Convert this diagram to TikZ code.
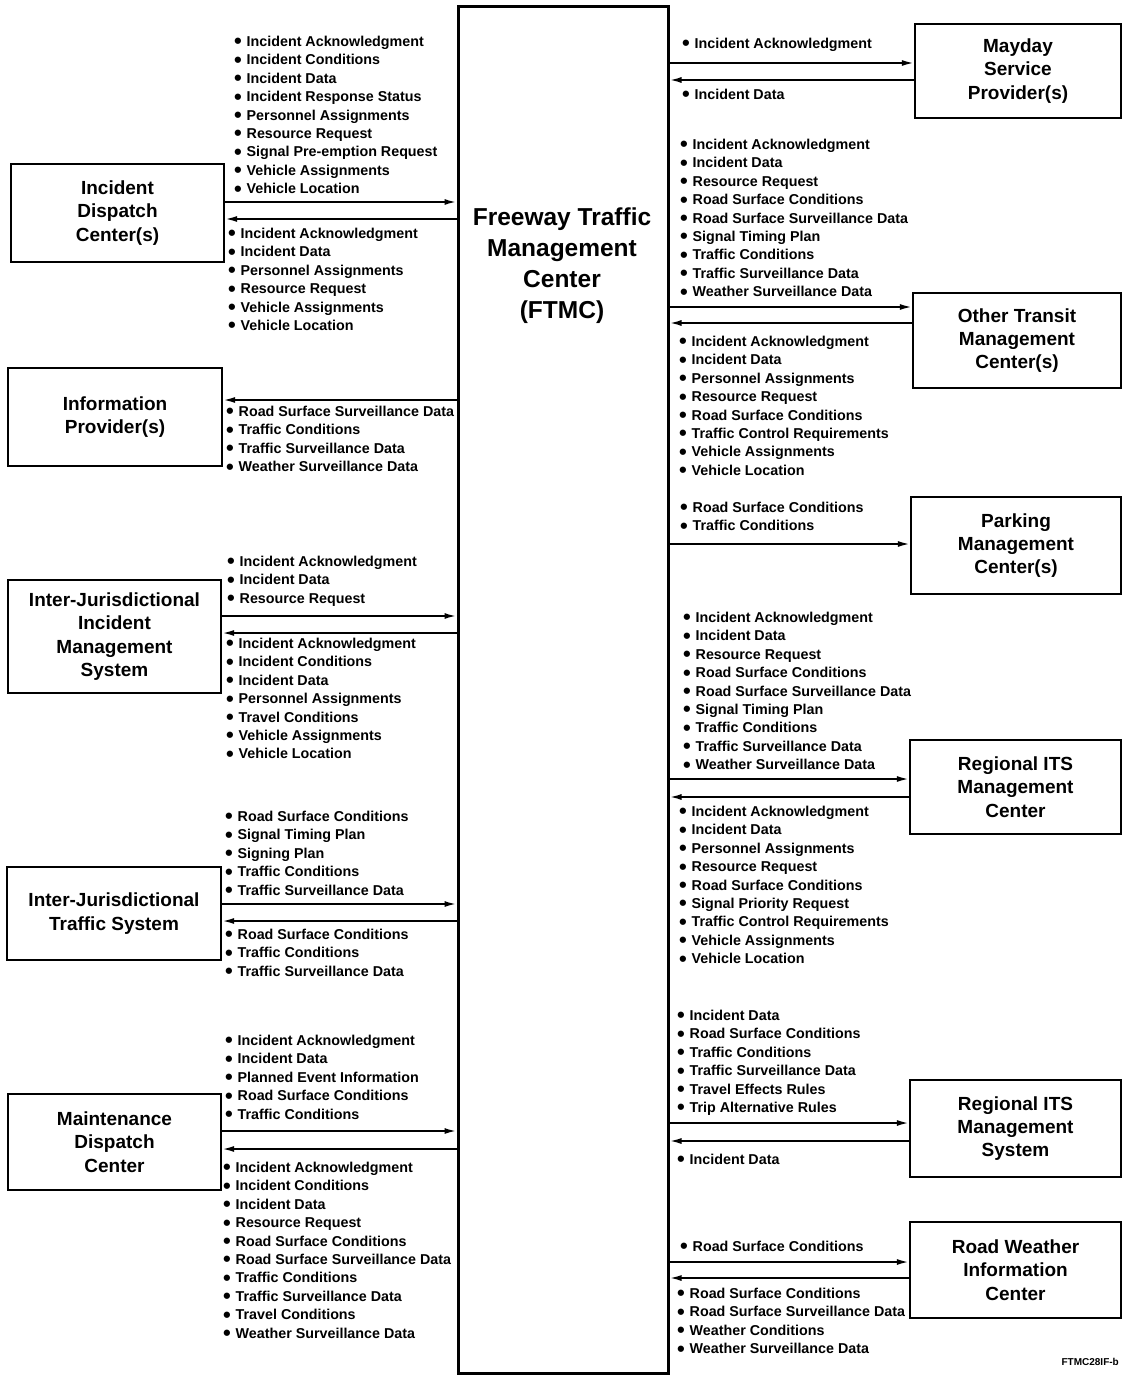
\documentclass[tikz,border=0pt]{standalone}
\usepackage{fontspec}
\setmainfont{Liberation Sans}
\usetikzlibrary{arrows.meta}
\newcommand\bl{\makebox[12.5pt][l]{\smash{\raisebox{-2.4pt}{\fontsize{22}{18}\selectfont •}}}}
\begin{document}
\begin{tikzpicture}[x=1pt,y=-1pt,
 box/.style={draw,line width=2.2pt,align=center,font=\bfseries\fontsize{19}{23.2}\selectfont,inner sep=0pt},
 lst/.style={anchor=north west,align=left,inner sep=0pt,font=\bfseries\fontsize{14.3}{18.4}\selectfont},
 arr/.style={line width=1.9pt,-{Latex[length=12pt,width=6pt]}}]
\useasboundingbox (0,0) rectangle (1123,1375);
\fill[white] (0,0) rectangle (1123,1375);

% central box
\node[draw,line width=3pt,minimum width=210pt,minimum height=1366pt,inner sep=0pt] (ftmc) at (563,690) {};
\node[align=center,font=\bfseries\fontsize{24.5}{31}\selectfont] (ftmct) at (562,266) {Freeway Traffic\\Management\\Center\\(FTMC)};

% left boxes
\node[box,minimum width=213pt,minimum height=98pt] (idc) at (117.5,213) {Incident\\Dispatch\\Center(s)};
\node[box,minimum width=214pt,minimum height=98pt] (ip) at (115,417) {Information\\Provider(s)};
\node[box,minimum width=213pt,minimum height=113pt] (ijims) at (114.5,636.5) {Inter-Jurisdictional\\Incident\\Management\\System};
\node[box,minimum width=214pt,minimum height=93pt] (ijts) at (114,913.5) {Inter-Jurisdictional\\Traffic System};
\node[box,minimum width=213pt,minimum height=96pt] (mdc) at (114.5,1142) {Maintenance\\Dispatch\\Center};

% right boxes
\node[box,minimum width=206pt,minimum height=94pt] (msp) at (1018,71) {Mayday\\Service\\Provider(s)};
\node[box,minimum width=208pt,minimum height=95pt] (otmc) at (1017,340.5) {Other Transit\\Management\\Center(s)};
\node[box,minimum width=210pt,minimum height=97pt] (pmc) at (1016,545.5) {Parking\\Management\\Center(s)};
\node[box,minimum width=211pt,minimum height=94pt] (ritsc) at (1015.5,787) {Regional ITS\\Management\\Center};
\node[box,minimum width=211pt,minimum height=97pt] (ritss) at (1015.5,1128.5) {Regional ITS\\Management\\System};
\node[box,minimum width=211pt,minimum height=96pt] (rwic) at (1015.5,1270) {Road Weather\\Information\\Center};

% left lists
\node[lst] (l1u) at (234,36) {\bl Incident Acknowledgment\\\bl Incident Conditions\\\bl Incident Data\\\bl Incident Response Status\\\bl Personnel Assignments\\\bl Resource Request\\\bl Signal Pre-emption Request\\\bl Vehicle Assignments\\\bl Vehicle Location};
\node[lst] (l1d) at (228,228) {\bl Incident Acknowledgment\\\bl Incident Data\\\bl Personnel Assignments\\\bl Resource Request\\\bl Vehicle Assignments\\\bl Vehicle Location};
\node[lst] (l2) at (226,406) {\bl Road Surface Surveillance Data\\\bl Traffic Conditions\\\bl Traffic Surveillance Data\\\bl Weather Surveillance Data};
\node[lst] (l3u) at (227,556) {\bl Incident Acknowledgment\\\bl Incident Data\\\bl Resource Request};
\node[lst] (l3d) at (226,638) {\bl Incident Acknowledgment\\\bl Incident Conditions\\\bl Incident Data\\\bl Personnel Assignments\\\bl Travel Conditions\\\bl Vehicle Assignments\\\bl Vehicle Location};
\node[lst] (l4u) at (225,811) {\bl Road Surface Conditions\\\bl Signal Timing Plan\\\bl Signing Plan\\\bl Traffic Conditions\\\bl Traffic Surveillance Data};
\node[lst] (l4d) at (225,929) {\bl Road Surface Conditions\\\bl Traffic Conditions\\\bl Traffic Surveillance Data};
\node[lst] (l5u) at (225,1035) {\bl Incident Acknowledgment\\\bl Incident Data\\\bl Planned Event Information\\\bl Road Surface Conditions\\\bl Traffic Conditions};
\node[lst] (l5d) at (223,1162) {\bl Incident Acknowledgment\\\bl Incident Conditions\\\bl Incident Data\\\bl Resource Request\\\bl Road Surface Conditions\\\bl Road Surface Surveillance Data\\\bl Traffic Conditions\\\bl Traffic Surveillance Data\\\bl Travel Conditions\\\bl Weather Surveillance Data};

% right lists
\node[lst] (r1u) at (682,38) {\bl Incident Acknowledgment};
\node[lst] (r1d) at (682,89) {\bl Incident Data};
\node[lst] (r2u) at (680,139) {\bl Incident Acknowledgment\\\bl Incident Data\\\bl Resource Request\\\bl Road Surface Conditions\\\bl Road Surface Surveillance Data\\\bl Signal Timing Plan\\\bl Traffic Conditions\\\bl Traffic Surveillance Data\\\bl Weather Surveillance Data};
\node[lst] (r2d) at (679,336) {\bl Incident Acknowledgment\\\bl Incident Data\\\bl Personnel Assignments\\\bl Resource Request\\\bl Road Surface Conditions\\\bl Traffic Control Requirements\\\bl Vehicle Assignments\\\bl Vehicle Location};
\node[lst] (r3u) at (680,502) {\bl Road Surface Conditions\\\bl Traffic Conditions};
\node[lst] (r4u) at (683,612) {\bl Incident Acknowledgment\\\bl Incident Data\\\bl Resource Request\\\bl Road Surface Conditions\\\bl Road Surface Surveillance Data\\\bl Signal Timing Plan\\\bl Traffic Conditions\\\bl Traffic Surveillance Data\\\bl Weather Surveillance Data};
\node[lst] (r4d) at (679,806) {\bl Incident Acknowledgment\\\bl Incident Data\\\bl Personnel Assignments\\\bl Resource Request\\\bl Road Surface Conditions\\\bl Signal Priority Request\\\bl Traffic Control Requirements\\\bl Vehicle Assignments\\\bl Vehicle Location};
\node[lst] (r5u) at (677,1010) {\bl Incident Data\\\bl Road Surface Conditions\\\bl Traffic Conditions\\\bl Traffic Surveillance Data\\\bl Travel Effects Rules\\\bl Trip Alternative Rules};
\node[lst] (r5d) at (677,1154) {\bl Incident Data};
\node[lst] (r6u) at (680,1241) {\bl Road Surface Conditions};
\node[lst] (r6d) at (677,1288) {\bl Road Surface Conditions\\\bl Road Surface Surveillance Data\\\bl Weather Conditions\\\bl Weather Surveillance Data};

\node[anchor=east,inner sep=0pt,font=\bfseries\fontsize{10}{12}\selectfont] (code) at (1119,1362) {FTMC28IF-b};

% left arrows
\draw[arr] (idc.east |- 0,202) -- (ftmc.west |- 0,202);
\draw[arr] (ftmc.west |- 0,219) -- (idc.east |- 0,219);
\draw[arr] (ftmc.west |- 0,400) -- (ip.east |- 0,400);
\draw[arr] (ijims.east |- 0,616) -- (ftmc.west |- 0,616);
\draw[arr] (ftmc.west |- 0,633) -- (ijims.east |- 0,633);
\draw[arr] (ijts.east |- 0,904) -- (ftmc.west |- 0,904);
\draw[arr] (ftmc.west |- 0,921) -- (ijts.east |- 0,921);
\draw[arr] (mdc.east |- 0,1131) -- (ftmc.west |- 0,1131);
\draw[arr] (ftmc.west |- 0,1149) -- (mdc.east |- 0,1149);

% right arrows
\draw[arr] (ftmc.east |- 0,63) -- (msp.west |- 0,63);
\draw[arr] (msp.west |- 0,80) -- (ftmc.east |- 0,80);
\draw[arr] (ftmc.east |- 0,307) -- (otmc.west |- 0,307);
\draw[arr] (otmc.west |- 0,323) -- (ftmc.east |- 0,323);
\draw[arr] (ftmc.east |- 0,544) -- (pmc.west |- 0,544);
\draw[arr] (ftmc.east |- 0,779) -- (ritsc.west |- 0,779);
\draw[arr] (ritsc.west |- 0,797) -- (ftmc.east |- 0,797);
\draw[arr] (ftmc.east |- 0,1123) -- (ritss.west |- 0,1123);
\draw[arr] (ritss.west |- 0,1141) -- (ftmc.east |- 0,1141);
\draw[arr] (ftmc.east |- 0,1262) -- (rwic.west |- 0,1262);
\draw[arr] (rwic.west |- 0,1278) -- (ftmc.east |- 0,1278);
\end{tikzpicture}
\end{document}
